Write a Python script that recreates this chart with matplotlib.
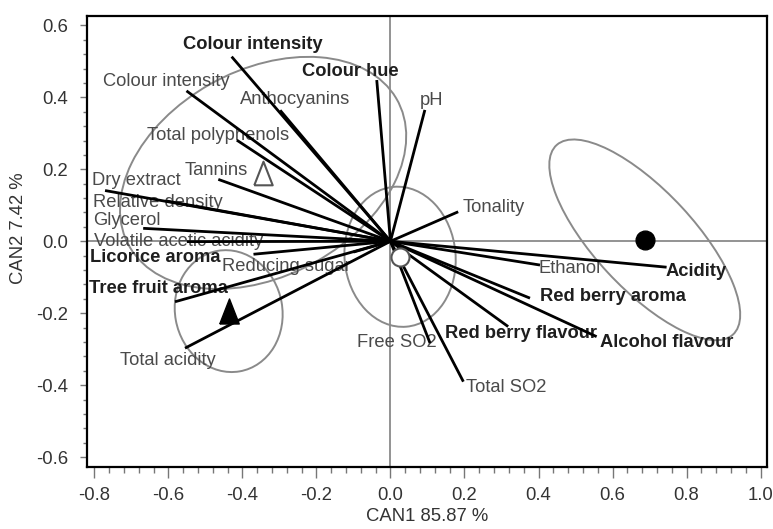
import matplotlib.pyplot as plt
from matplotlib.patches import Ellipse
from matplotlib.ticker import MultipleLocator

plt.rcParams['font.family'] = ['Liberation Sans', 'DejaVu Sans']
plt.rcParams['axes.unicode_minus'] = False

# variable loadings on the two canonical axes
variables = ['Colour intensity', 'Colour intensity', 'Colour hue', 'Anthocyanins', 'pH',
             'Total polyphenols', 'Tannins', 'Dry extract', 'Relative density', 'Glycerol',
             'Volatile acetic acidity', 'Licorice aroma', 'Reducing sugar', 'Tree fruit aroma',
             'Total acidity', 'Tonality', 'Ethanol', 'Acidity', 'Red berry aroma',
             'Red berry flavour', 'Alcohol flavour', 'Free SO2', 'Total SO2']
can1 = [-0.429, -0.551, -0.037, -0.298, 0.093,
        -0.415, -0.465, -0.771, -0.605, -0.668,
        -0.55, -0.37, -0.10, -0.582,
        -0.555, 0.183, 0.404, 0.746, 0.377,
        0.318, 0.557, 0.107, 0.197]
can2 = [0.513, 0.418, 0.448, 0.364, 0.365,
        0.281, 0.172, 0.141, 0.112, 0.036,
        -0.001, -0.036, -0.03, -0.168,
        -0.297, 0.082, -0.066, -0.072, -0.158,
        -0.237, -0.265, -0.283, -0.39]
sensory = [True, False, True, False, False,
           False, False, False, False, False,
           False, True, False, True,
           False, False, False, True, True,
           True, True, False, False]

# where each name is written
label_x = [-0.371, -0.606, -0.109, -0.258, 0.112,
           -0.465, -0.47, -0.686, -0.627, -0.713,
           -0.573, -0.636, -0.28, -0.627,
           -0.60, 0.278, 0.485, 0.827, 0.602,
           0.354, 0.746, 0.017, 0.314]
label_y = [0.548, 0.443, 0.471, 0.395, 0.392,
           0.295, 0.196, 0.170, 0.107, 0.059,
           0.0, -0.046, -0.069, -0.131,
           -0.33, 0.094, -0.075, -0.084, -0.154,
           -0.256, -0.282, -0.282, -0.407]

# group centroids and their confidence ellipses
group_can1 = [-0.344, -0.437, 0.026, 0.687]
group_can2 = [0.19, -0.194, -0.043, 0.004]
ell_width = [0.83, 0.29, 0.30, 0.71]
ell_height = [0.57, 0.34, 0.39, 0.27]
ell_angle = [30, 10, 5, -48]

fig = plt.figure(figsize=(7.73, 5.29), dpi=100)
ax = fig.add_axes([0.1129, 0.1166, 0.8797, 0.8532])

ax.axhline(0, color='#8a8a8a', lw=1.3, zorder=1)
ax.axvline(0, color='#8a8a8a', lw=1.3, zorder=1)

for cx, cy, w, h, a in zip(group_can1, group_can2, ell_width, ell_height, ell_angle):
    ax.add_patch(Ellipse((cx, cy), w, h, angle=a, fill=False,
                         edgecolor='#8a8a8a', lw=1.4, zorder=2))

for name, x, y, tx, ty, s in zip(variables, can1, can2, label_x, label_y, sensory):
    ax.plot([0, x], [0, y], color='black', lw=2, zorder=4, solid_capstyle='butt')
    ax.text(tx, ty, name, ha='center', va='center', fontsize=13.2,
            fontweight='bold' if s else 'normal',
            color='#1e1e1e' if s else '#4a4a4a', zorder=3)

# tall triangle marker, closed path
tri = [(-0.39, -0.5), (0.39, -0.5), (0, 0.5), (-0.39, -0.5)]
ax.plot(group_can1[0], group_can2[0], marker=tri, ms=17, mfc='white', mec='#555555',
        mew=1.5, ls='none', zorder=5)
ax.plot(group_can1[1], group_can2[1], marker=tri, ms=18, mfc='black', mec='black',
        ls='none', zorder=5)
ax.plot(group_can1[2], group_can2[2], marker='o', ms=13, mfc='white', mec='#555555',
        mew=1.5, ls='none', zorder=5)
ax.plot(group_can1[3], group_can2[3], marker='o', ms=13.5, mfc='black', mec='black',
        ls='none', zorder=5)

ax.set_xlim(-0.819, 1.018)
ax.set_ylim(-0.628, 0.626)
ax.xaxis.set_major_locator(MultipleLocator(0.2))
ax.xaxis.set_minor_locator(MultipleLocator(0.04))
ax.yaxis.set_major_locator(MultipleLocator(0.2))
ax.yaxis.set_minor_locator(MultipleLocator(0.04))
ax.xaxis.set_major_formatter(plt.FormatStrFormatter('%.1f'))
ax.yaxis.set_major_formatter(plt.FormatStrFormatter('%.1f'))

for sp in ax.spines.values():
    sp.set_linewidth(1.6)
    sp.set_color('black')
ax.tick_params(axis='x', which='major', length=8, width=1, color='#777777',
               labelsize=13.3, labelcolor='#333333', pad=6)
ax.tick_params(axis='x', which='minor', length=4, width=1, color='#777777')
ax.tick_params(axis='y', which='major', length=5, width=1, color='#777777',
               labelsize=13.3, labelcolor='#333333', pad=9)
ax.tick_params(axis='y', which='minor', length=3, width=1, color='#777777')

ax.set_xlabel('CAN1 85.87 %', fontsize=13.3, color='#333333', labelpad=3)
ax.set_ylabel('CAN2 7.42 %', fontsize=13.3, color='#333333')
ax.yaxis.set_label_coords(-0.088, 0.53)

fig.savefig('out.png', dpi=100)
